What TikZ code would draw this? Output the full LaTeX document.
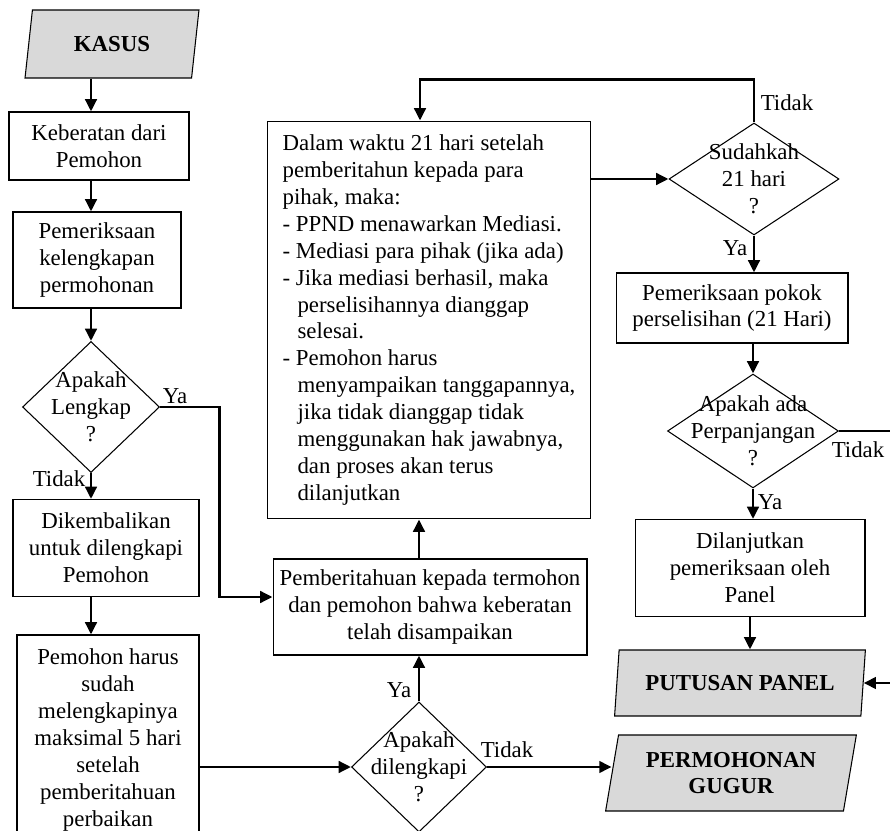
\documentclass[tikz,border=0pt]{standalone}
\usepackage{fontspec}
\setmainfont{Liberation Serif}
\usetikzlibrary{shapes.geometric,arrows.meta,calc}
\definecolor{abu}{RGB}{217,217,217}
\newcommand{\ind}{\hspace*{8.5pt}}
\begin{document}
\begin{tikzpicture}[x=0.02cm,y=-0.02cm,
    every node/.style={font=\fontsize{13}{15.3}\selectfont},
    kotak/.style={draw,line width=0.6pt,align=center,inner sep=0pt},
    jajar/.style={draw,line width=0.6pt,fill=abu,trapezium,trapezium left angle=77,
      trapezium right angle=103,trapezium stretches=true,align=center,inner sep=0pt,
      font=\fontsize{13}{15.3}\selectfont\bfseries},
    belah/.style={draw,line width=0.6pt,diamond,inner sep=0pt},
    ket/.style={inner sep=0pt,align=center},
    panah/.style={line width=1.7pt,-{Triangle[length=7pt,width=6.5pt]}}]
      \useasboundingbox (0,0) rectangle (890,831);
      \clip (0,0) rectangle (890,831);
      \draw
        (112,44) node[jajar,minimum width=3.48cm,minimum height=1.36cm] (kasus){KASUS}
        (99,146) node[kotak,minimum width=3.6cm,minimum height=1.36cm] (keberatan){Keberatan dari\\Pemohon}
        (97,260) node[kotak,minimum width=3.36cm,minimum height=1.92cm] (periksa){Pemeriksaan\\kelengkapan\\permohonan}
        (91,407) node[belah,minimum width=2.74cm,minimum height=2.62cm] (lengkap){}
        (91,407) node[ket] (lengkapteks){Apakah\\Lengkap\\?}
        (106,548) node[kotak,minimum width=3.72cm,minimum height=1.94cm] (kembali){Dikembalikan\\untuk dilengkapi\\Pemohon}
        (108,740) node[kotak,minimum width=3.64cm,minimum height=4.2cm] (harus){Pemohon harus\\sudah\\melengkapinya\\maksimal 5 hari\\setelah\\pemberitahuan\\perbaikan}
        (430,607) node[kotak,minimum width=6.28cm,minimum height=1.92cm] (pemberitahuan){Pemberitahuan kepada termohon\\dan pemohon bahwa keberatan\\telah disampaikan}
        (419,767) node[belah,minimum width=2.7cm,minimum height=2.6cm] (dilengkapi){}
        (419,767) node[ket] (dilengkapiteks){Apakah\\dilengkapi\\?}
        (429,320) node[kotak,align=left,minimum width=6.48cm,minimum height=7.96cm] (dalam){Dalam waktu 21 hari setelah\\
          pemberitahun kepada para\\
          pihak, maka:\\
          - PPND menawarkan Mediasi.\\
          - Mediasi para pihak (jika ada)\\
          - Jika mediasi berhasil, maka\\
          \ind perselisihannya dianggap\\
          \ind selesai.\\
          - Pemohon harus\\
          \ind menyampaikan tanggapannya,\\
          \ind jika tidak dianggap tidak\\
          \ind menggunakan hak jawabnya,\\
          \ind dan proses akan terus\\
          \ind dilanjutkan}
        (754,179) node[belah,minimum width=3.4cm,minimum height=2.24cm] (sudahkah){}
        (754,179) node[ket] (sudahkahteks){Sudahkah\\21 hari\\?}
        (732,308) node[kotak,minimum width=4.64cm,minimum height=1.4cm] (pokok){Pemeriksaan pokok\\perselisihan (21 Hari)}
        (753,431) node[belah,minimum width=3.42cm,minimum height=2.28cm] (perpanjang){}
        (753,431) node[ket] (perpanjangteks){Apakah ada\\Perpanjangan\\?}
        (750,568) node[kotak,minimum width=4.6cm,minimum height=1.94cm] (lanjut){Dilanjutkan\\pemeriksaan oleh\\Panel}
        (740,683) node[jajar,minimum width=5.02cm,minimum height=1.32cm] (putusan){PUTUSAN PANEL}
        (731,773) node[jajar,minimum width=5.02cm,minimum height=1.52cm] (gugur){PERMOHONAN\\GUGUR};
      \draw
        (175,396) node[ket] (ya1){Ya}
        (59,479) node[ket] (tidak1){Tidak}
        (399,690) node[ket] (ya2){Ya}
        (507,750) node[ket] (tidak2){Tidak}
        (787,103) node[ket] (tidak3){Tidak}
        (735,248) node[ket] (ya3){Ya}
        (858,450) node[ket] (tidak4){Tidak}
        (770,502) node[ket] (ya4){Ya};
      \coordinate (tepi) at (905,431);
      \begin{scope}[panah]
        \draw (kasus.south -| lengkap) to (keberatan.north -| lengkap);
        \draw (keberatan.south -| lengkap) to (periksa.north -| lengkap);
        \draw (periksa.south -| lengkap) to (lengkap.north);
        \draw (lengkap.south) to (kembali.north -| lengkap);
        \draw (kembali.south -| lengkap) to (harus.north -| lengkap);
        \draw (lengkap.east) -- ++(59,0) |- ($(pemberitahuan.west)+(0,-10)$);
        \draw (harus.east |- dilengkapi) to (dilengkapi.west);
        \draw (dilengkapi.north) to (dilengkapi.north |- pemberitahuan.south);
        \draw (pemberitahuan.north -| dilengkapi) to (dalam.south -| dilengkapi);
        \draw (dilengkapi.east) to (gugur.west |- dilengkapi);
        \draw (sudahkah.north) -- ++(0,-43) -| ($(dalam.north)+(-9,0)$);
        \draw (dalam.east |- sudahkah) to (sudahkah.west);
        \draw (sudahkah.south) to (sudahkah.south |- pokok.north);
        \draw (pokok.south -| perpanjang) to (perpanjang.north);
        \draw (perpanjang.south) to (lanjut.north -| perpanjang);
        \draw (lanjut.south) to (lanjut.south |- putusan.north);
        \draw (perpanjang.east) -- (tepi) |- (putusan.east);
      \end{scope}
    \end{tikzpicture}
\end{document}
